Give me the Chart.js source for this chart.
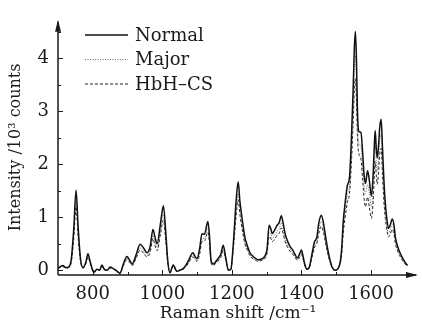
<!DOCTYPE html>
<html>
<head>
<meta charset="utf-8">
<script src="https://cdn.jsdelivr.net/npm/chart.js@4/dist/chart.umd.min.js"></script>
<style>
html, body { margin: 0; padding: 0; background: #fff; }
#wrap { width: 422px; height: 324px; position: relative; }
</style>
</head>
<body>
<div id="wrap"><canvas id="c" width="422" height="324"></canvas></div>
<script>
// Raman shift (cm^-1)
const shift = [700,705,714,722,730,738,745,752,758,765,772,780,786,793,803,812,820,826,833,841,850,857,864,872,878,888,898,905,913,925,936,946,956,965,973,979,985,995,1003,1010,1016,1022,1031,1042,1050,1060,1068,1075,1082,1088,1094,1100,1107,1114,1121,1131,1136,1140,1146,1152,1160,1168,1175,1182,1190,1197,1204,1212,1218,1223,1227,1233,1238,1245,1252,1260,1267,1275,1287,1295,1301,1307,1312,1316,1322,1330,1336,1342,1347,1353,1360,1367,1373,1380,1388,1394,1400,1405,1410,1416,1422,1430,1437,1444,1450,1457,1463,1469,1474,1480,1488,1497,1505,1512,1516,1520,1526,1532,1538,1543,1548,1552,1555,1558,1561,1565,1571,1576,1580,1584,1590,1595,1601,1606,1609,1612,1615,1618,1622,1625,1629,1633,1637,1641,1645,1650,1655,1661,1666,1670,1675,1682,1690,1698,1705];

// intensity /10^3 counts
const normal = [0.04,0.06,0.09,0.05,0.06,0.2,0.75,1.51,0.8,0.2,0.05,0.15,0.31,0.15,-0.04,0.02,0.0,0.1,0.02,0.0,0.06,0.04,0.01,-0.03,-0.06,0.12,0.26,0.2,0.12,0.3,0.49,0.42,0.33,0.45,0.77,0.62,0.5,0.9,1.22,0.7,0.15,-0.05,0.1,-0.02,0.0,0.03,0.1,0.18,0.28,0.33,0.26,0.22,0.4,0.69,0.68,0.92,0.6,0.18,0.12,0.15,0.22,0.3,0.47,0.25,0.0,0.02,0.5,1.3,1.67,1.3,1.09,0.8,0.6,0.45,0.33,0.27,0.23,0.2,0.22,0.27,0.4,0.85,0.78,0.69,0.75,0.85,0.9,1.03,0.9,0.69,0.55,0.45,0.4,0.32,0.23,0.3,0.38,0.25,0.1,0.02,0.05,0.3,0.53,0.62,0.9,1.04,0.9,0.65,0.45,0.25,0.06,0.0,0.03,0.18,0.45,0.91,1.3,1.6,1.75,2.4,3.3,4.2,4.51,4.0,3.0,2.62,2.6,2.2,1.8,1.64,1.88,1.7,1.4,1.8,2.3,2.64,2.3,2.12,2.4,2.7,2.85,2.3,1.7,1.27,1.0,0.79,0.85,0.97,0.85,0.62,0.48,0.35,0.24,0.15,0.09];

const major = [0.03,0.05,0.08,0.04,0.05,0.17,0.65,1.32,0.7,0.18,0.04,0.13,0.27,0.13,-0.04,0.01,0.0,0.08,0.02,0.0,0.05,0.03,0.0,-0.03,-0.05,0.1,0.22,0.18,0.1,0.26,0.42,0.36,0.28,0.38,0.66,0.52,0.42,0.78,1.05,0.6,0.13,-0.04,0.08,-0.02,0.0,0.02,0.08,0.15,0.24,0.28,0.22,0.19,0.34,0.6,0.6,0.8,0.52,0.16,0.1,0.13,0.19,0.26,0.41,0.22,0.0,0.02,0.43,1.12,1.45,1.15,0.95,0.7,0.52,0.4,0.29,0.24,0.2,0.18,0.2,0.24,0.35,0.72,0.68,0.6,0.65,0.74,0.78,0.9,0.78,0.6,0.48,0.4,0.35,0.28,0.2,0.26,0.33,0.22,0.09,0.02,0.04,0.26,0.46,0.55,0.78,0.92,0.8,0.57,0.4,0.22,0.05,0.0,0.03,0.15,0.38,0.8,1.15,1.42,1.58,2.15,3.0,3.8,4.05,3.6,2.75,2.4,2.35,1.95,1.6,1.45,1.62,1.45,1.2,1.55,2.0,2.35,2.05,1.88,2.15,2.45,2.58,2.05,1.5,1.12,0.88,0.7,0.76,0.86,0.76,0.55,0.43,0.31,0.21,0.13,0.08];

const hbhcs = [0.03,0.05,0.07,0.04,0.05,0.15,0.58,1.2,0.62,0.16,0.04,0.12,0.25,0.12,-0.04,0.01,0.0,0.07,0.01,0.0,0.04,0.03,0.0,-0.03,-0.05,0.09,0.2,0.16,0.09,0.23,0.38,0.32,0.25,0.34,0.6,0.46,0.37,0.7,0.95,0.54,0.12,-0.04,0.07,-0.02,0.0,0.02,0.07,0.13,0.21,0.25,0.2,0.17,0.3,0.54,0.55,0.72,0.47,0.14,0.09,0.12,0.17,0.24,0.37,0.2,0.0,0.02,0.4,1.02,1.33,1.05,0.87,0.64,0.48,0.37,0.27,0.22,0.19,0.17,0.19,0.22,0.32,0.64,0.6,0.54,0.58,0.66,0.7,0.8,0.7,0.54,0.43,0.36,0.32,0.26,0.19,0.24,0.3,0.2,0.08,0.02,0.04,0.24,0.42,0.5,0.7,0.83,0.72,0.52,0.36,0.2,0.05,0.0,0.03,0.14,0.34,0.7,1.02,1.28,1.45,1.95,2.7,3.4,3.62,3.25,2.5,2.2,2.1,1.7,1.35,1.2,1.38,1.2,0.98,1.3,1.72,2.05,1.8,1.62,1.9,2.2,2.3,1.8,1.3,0.98,0.78,0.63,0.68,0.77,0.68,0.5,0.39,0.28,0.19,0.12,0.07];

const xTicks = [800, 1000, 1200, 1400, 1600];
const yTicks = [0, 1, 2, 3, 4];

const FONT = '"DejaVu Serif", "Liberation Serif", serif';
const INK = '#1a1a1a';

const pts = (ys) => shift.map((x, i) => ({ x, y: ys[i] }));

// axes with arrows, inward ticks, legend
const decor = {
  id: 'decor',
  afterDraw(chart){
    const { ctx, chartArea: a, scales: { x, y } } = chart;
    ctx.save();
    ctx.strokeStyle = INK;
    ctx.fillStyle = INK;
    ctx.lineWidth = 1.5;
    // axis lines
    ctx.beginPath();
    ctx.moveTo(a.left, a.bottom); ctx.lineTo(a.left, a.top + 2);
    ctx.moveTo(a.left, a.bottom); ctx.lineTo(a.right - 2, a.bottom);
    ctx.stroke();
    // arrow heads
    ctx.beginPath();
    ctx.moveTo(a.left, a.top); ctx.lineTo(a.left - 3, a.top + 12); ctx.lineTo(a.left + 3, a.top + 12); ctx.closePath();
    ctx.moveTo(a.right, a.bottom); ctx.lineTo(a.right - 12, a.bottom - 3); ctx.lineTo(a.right - 12, a.bottom + 3); ctx.closePath();
    ctx.fill();
    // ticks
    ctx.lineWidth = 1;
    ctx.beginPath();
    for (let v = 0; v <= 4.5; v += 0.5) {
      const py = Math.round(y.getPixelForValue(v)) + 0.5;
      ctx.moveTo(a.left, py); ctx.lineTo(a.left + (v % 1 === 0 ? 5 : 3), py);
    }
    for (let v = 800; v <= 1700; v += 100) {
      const px = Math.round(x.getPixelForValue(v)) + 0.5;
      ctx.moveTo(px, a.bottom); ctx.lineTo(px, a.bottom - (v % 200 === 0 ? 5 : 3));
    }
    ctx.stroke();
    // legend
    ctx.font = '18px ' + FONT;
    ctx.textBaseline = 'middle';
    chart.data.datasets.forEach((ds, i) => {
      const ly = 35 + i * 24.5;
      ctx.strokeStyle = ds.borderColor;
      ctx.lineWidth = ds.borderWidth;
      ctx.setLineDash(ds.borderDash || []);
      ctx.beginPath(); ctx.moveTo(85, ly); ctx.lineTo(128, ly); ctx.stroke();
      ctx.setLineDash([]);
      ctx.fillStyle = INK;
      ctx.fillText(ds.label, 135, ly + 1);
    });
    ctx.restore();
  }
};

new Chart(document.getElementById('c'), {
  type: 'line',
  data: {
    datasets: [
      { label: 'Normal', data: pts(normal), borderColor: '#111', borderWidth: 1.5 },
      { label: 'Major', data: pts(major), borderColor: '#666', borderWidth: 1, borderDash: [1, 1.5] },
      { label: 'HbH\u2013CS', data: pts(hbhcs), borderColor: '#222', borderWidth: 1, borderDash: [3, 2] }
    ]
  },
  options: {
    responsive: false,
    animation: false,
    elements: { point: { radius: 0 }, line: { cubicInterpolationMode: 'monotone' } },
    layout: { padding: { top: 10, right: 4, left: 0, bottom: 0 } },
    plugins: { legend: { display: false }, tooltip: { enabled: false } },
    scales: {
      x: {
        type: 'linear', min: 700, max: 1735,
        afterBuildTicks: (s) => { s.ticks = xTicks.map(v => ({ value: v })); },
        afterFit: (s) => { s.height = 49; },
        grid: { display: false, drawTicks: false },
        border: { display: false },
        ticks: { color: INK, font: { family: FONT, size: 18 }, padding: 9, callback: (v) => String(v) },
        title: { display: true, text: 'Raman shift /cm\u207B\u00B9', color: INK, font: { family: FONT, size: 17 }, padding: { top: 0, bottom: 0 } }
      },
      y: {
        min: -0.09, max: 4.73,
        afterBuildTicks: (s) => { s.ticks = yTicks.map(v => ({ value: v })); },
        afterFit: (s) => { s.width = 58; },
        grid: { display: false, drawTicks: false },
        border: { display: false },
        ticks: { color: INK, font: { family: FONT, size: 18 }, padding: 9 },
        title: { display: true, text: 'Intensity /10\u00B3 counts', color: INK, font: { family: FONT, size: 16 }, padding: { top: 6, bottom: 2 } }
      }
    }
  },
  plugins: [decor]
});
</script>
</body>
</html>
